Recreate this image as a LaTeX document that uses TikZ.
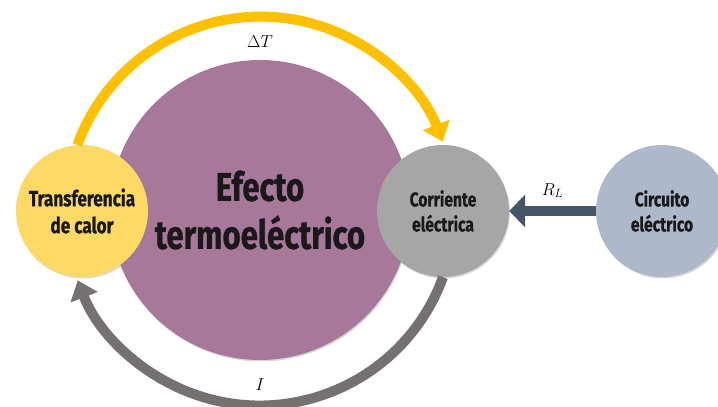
\documentclass[tikz,border=0pt]{standalone}
\usepackage{fontspec}
\usepackage{amsmath}
\usetikzlibrary{arrows.meta,shadows}
\newfontfamily\condfont[FakeStretch=0.78,FakeBold=0.8]{Fira Sans}
\definecolor{bigfill}{HTML}{A8789A}
\definecolor{heatfill}{HTML}{FFD966}
\definecolor{currfill}{HTML}{A6A6A6}
\definecolor{circfill}{HTML}{ADB9CA}
\definecolor{heatline}{HTML}{FFC000}
\definecolor{currline}{HTML}{767171}
\definecolor{loadline}{HTML}{44546A}

\begin{document}
\begin{tikzpicture}[x=1pt,y=1pt,
    bubble/.style={circle,inner sep=0pt,minimum size=132pt,align=center,
      text=black!90,font=\condfont\bfseries\fontsize{20}{25}\selectfont,
      drop shadow={opacity=.3,shadow xshift=1pt,shadow yshift=-1.5pt}},
    loopline/.style={line width=10pt,-{Triangle[length=18pt,width=28pt]}},
    mathlbl/.style={text=black,font=\fontsize{17}{20}\selectfont}]
    \useasboundingbox (0,0) rectangle (718,407);
    \def\r{195}
    \node[bubble,fill=bigfill,minimum size=300pt,
      font=\condfont\bfseries\fontsize{40}{48}\selectfont] (efecto) at (260,197) {Efecto\\termoeléctrico};
    \node[bubble,fill=heatfill,font=\condfont\bfseries\fontsize{22}{27}\selectfont] (calor) at (82,196) {Transferencia\\de calor};
    \node[bubble,fill=currfill] (corriente) at (443,196) {Corriente\\eléctrica};
    \node[bubble,fill=circfill] (circuito) at (662,196) {Circuito\\eléctrico};
    % loops round the big circle
    \draw[loopline,heatline] (calor.94) arc[start angle=160,end angle=21,radius=\r];
    \draw[loopline,currline] (corriente.south) arc[start angle=-20,end angle=-159,radius=\r];
    \node[mathlbl] (dt) at (260,365) {$\Delta T$};
    \node[mathlbl] (cur) at (260,22) {$I$};
    \draw[line width=10pt,loadline,-{Triangle[length=16pt,width=32pt]}] (circuito.west) -- (corriente.east)
      node[midway,above=5pt,mathlbl] (rl) {$R_L$};
  \end{tikzpicture}
\end{document}
